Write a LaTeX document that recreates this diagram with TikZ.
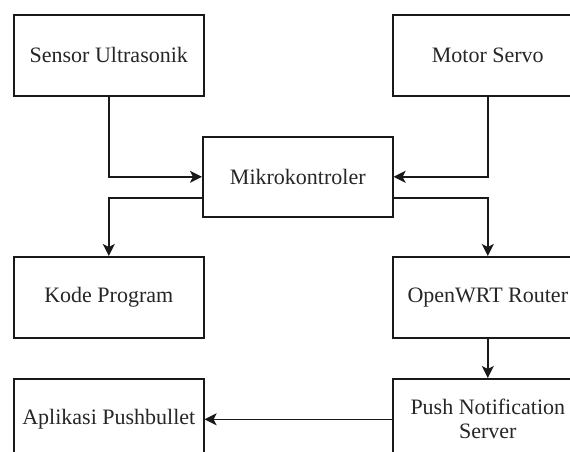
\documentclass[tikz,border=0pt]{standalone}
\usepackage{fontspec}
\setmainfont{Liberation Serif}
\usetikzlibrary{arrows.meta}
\begin{document}
\begin{tikzpicture}[x=1pt,y=-1pt,
  blk/.style={draw=black!90,line width=1.6pt,minimum width=190pt,minimum height=81pt,inner sep=0pt,
    font=\rmfamily\fontsize{22}{24}\selectfont,text=black!85,align=center,anchor=north west},
  conn/.style={draw=black!90,line width=1.6pt,-{Stealth[length=12pt,width=12pt,inset=3pt]}}]
\useasboundingbox (0,0) rectangle (570,452);
\clip (0,0) rectangle (570,452);
\fill[white] (0,0) rectangle (570,452);
\node[blk] (sensor) at (13,14) {Sensor Ultrasonik};
\node[blk] (motor) at (392,14) {Motor Servo};
\node[blk,minimum width=190pt,minimum height=80pt] (mikro) at (202,136) {Mikrokontroler};
\node[blk] (kode) at (13,256) {Kode Program};
\node[blk] (router) at (392,256) {OpenWRT Router};
\node[blk] (push) at (392,378) {Push Notification\\Server};
\node[blk] (apl) at (13,378) {Aplikasi Pushbullet};
\coordinate (mkl) at ([yshift=-21pt]mikro.west);
\coordinate (mkr) at ([yshift=-21pt]mikro.east);
\draw[conn] (sensor.south) |- (mikro.west);
\draw[conn] (motor.south) |- (mikro.east);
\draw[conn] (mkl) -| (kode.north);
\draw[conn] (mkr) -| (router.north);
\draw[conn] (router.south) -- (push.north);
\draw[conn] (push.west) -- (apl.east);
\end{tikzpicture}
\end{document}
